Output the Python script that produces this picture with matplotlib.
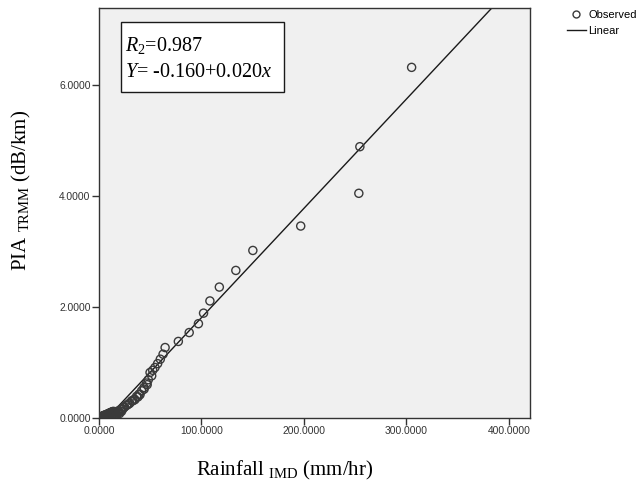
import matplotlib
matplotlib.use("Agg")
import matplotlib.pyplot as plt
from matplotlib.lines import Line2D
from matplotlib.patches import Rectangle
import numpy as np

plt.rcParams['mathtext.fontset'] = 'custom'
plt.rcParams['mathtext.rm'] = 'Liberation Serif'
plt.rcParams['mathtext.it'] = 'Liberation Serif:italic'

# Observed rainfall (IMD, mm/hr) vs PIA (TRMM, dB/km)
rain = [305.0, 254.5, 253.5, 196.8, 150.1, 133.5, 117.4, 108.2, 102.0, 97.0,
        88.0, 77.4, 64.5, 62.5, 59.8, 57.2, 54.6, 52.4, 51.4, 49.8,
        48.1, 46.5, 43.9, 41.6, 39.0, 36.7, 34.5, 31.9, 29.6, 27.0,
        24.4, 21.5, 18.9, 16.5, 15.0,
        0.3, 0.8, 1.2, 1.8, 2.3, 2.9, 3.4, 4.0, 4.6, 5.1, 5.7, 6.3, 6.8, 7.4,
        8.0, 8.6, 9.1, 9.7, 10.3, 10.9, 11.5, 12.1, 12.7, 13.3, 14.0, 14.6,
        15.3, 16.0, 17.0, 18.0, 19.5, 21.0, 23.0, 25.0, 28.0, 30.0, 33.0,
        35.0, 38.0, 40.0, 44.0, 47.0, 8.0, 12.0, 16.0, 20.0, 22.0]
pia = [6.32, 4.89, 4.05, 3.46, 3.02, 2.66, 2.36, 2.11, 1.89, 1.70,
       1.54, 1.38, 1.27, 1.15, 1.06, 0.98, 0.91, 0.86, 0.76, 0.82,
       0.69, 0.63, 0.55, 0.49, 0.43, 0.39, 0.34, 0.31, 0.26, 0.23,
       0.19, 0.16, 0.13, 0.11, 0.09,
       0.00, 0.01, 0.01, 0.02, 0.02, 0.03, 0.03, 0.04, 0.04, 0.05, 0.05, 0.05,
       0.06, 0.06, 0.07, 0.07, 0.08, 0.08, 0.09, 0.09, 0.10, 0.10, 0.11, 0.11,
       0.12, 0.08, 0.06, 0.05, 0.07, 0.09, 0.10, 0.12, 0.16, 0.20, 0.24, 0.27,
       0.31, 0.33, 0.38, 0.42, 0.52, 0.60, 0.02, 0.03, 0.04, 0.08, 0.12]

# fitted line (as drawn)
intercept = -0.160
slope = 0.0197
line_x = [0.0, 420.0]

xticks = [0, 100, 200, 300, 400]
yticks = [0, 2, 4, 6]

fig = plt.figure(figsize=(6.41, 4.83), dpi=100)
ax = fig.add_axes([99/641, 1 - 418/483, 431/641, 410/483])
ax.set_facecolor('#f0f0f0')

lx = np.array(line_x)
ax.plot(lx, intercept + slope * lx, color='#1a1a1a', lw=1.0, zorder=2)
ax.scatter(rain, pia, s=34, facecolors='none', edgecolors='#3a3a3a',
           linewidths=1.0, zorder=3)

ax.set_xlim(0, 420.5)
ax.set_ylim(0, 7.39)
ax.set_xticks(xticks)
ax.set_yticks(yticks)
ax.set_xticklabels([f"{v:.4f}" for v in xticks], fontsize=7.4, color='#333333',
                   family='Liberation Sans')
ax.set_yticklabels([f"{v:.4f}" for v in yticks], fontsize=7.4, color='#333333',
                   family='Liberation Sans')
ax.tick_params(length=5, width=1, color='#333333', pad=1)
for s in ax.spines.values():
    s.set_color('#333333')
    s.set_linewidth(1.0)

# equation box
ax.add_patch(Rectangle((22/431, (418-92)/410), 163/431, 70/410,
                       transform=ax.transAxes, facecolor='white',
                       edgecolor='#1a1a1a', lw=1.0, zorder=5))
ax.text(26/431, (418-51)/410, r'$\mathit{R}_{2}$=0.987', transform=ax.transAxes,
        ha='left', va='baseline', fontsize=14.5, family='Liberation Serif', zorder=6)
ax.text(26/431, (418-77)/410, r'$\mathit{Y}$= -0.160+0.020$\mathit{x}$',
        transform=ax.transAxes, ha='left', va='baseline', fontsize=14.5,
        family='Liberation Serif', zorder=6)

# axis labels
fig.text(285/641, 1 - 470/483, r'Rainfall $_{\mathrm{IMD}}$ (mm/hr)', ha='center',
         va='center', fontsize=15, family='Liberation Serif')
fig.text(21/641, 1 - 190/483, r'PIA $_{\mathrm{TRMM}}$ (dB/km)', ha='center',
         va='center', fontsize=15, family='Liberation Serif', rotation=90)

# legend
handles = [Line2D([], [], marker='o', ls='none', mfc='none', mec='#3a3a3a',
                  ms=5, mew=1.0),
           Line2D([], [], color='#1a1a1a', lw=1.0)]
fig.legend(handles, ['Observed', 'Linear'], loc='upper left',
           bbox_to_anchor=(567/641, 1 - 10/483), frameon=False,
           prop={'family': 'Liberation Sans', 'size': 8},
           handlelength=1.7, handletextpad=0.2, labelspacing=0.55,
           borderaxespad=0, borderpad=0)

fig.savefig('out.png', dpi=100)
